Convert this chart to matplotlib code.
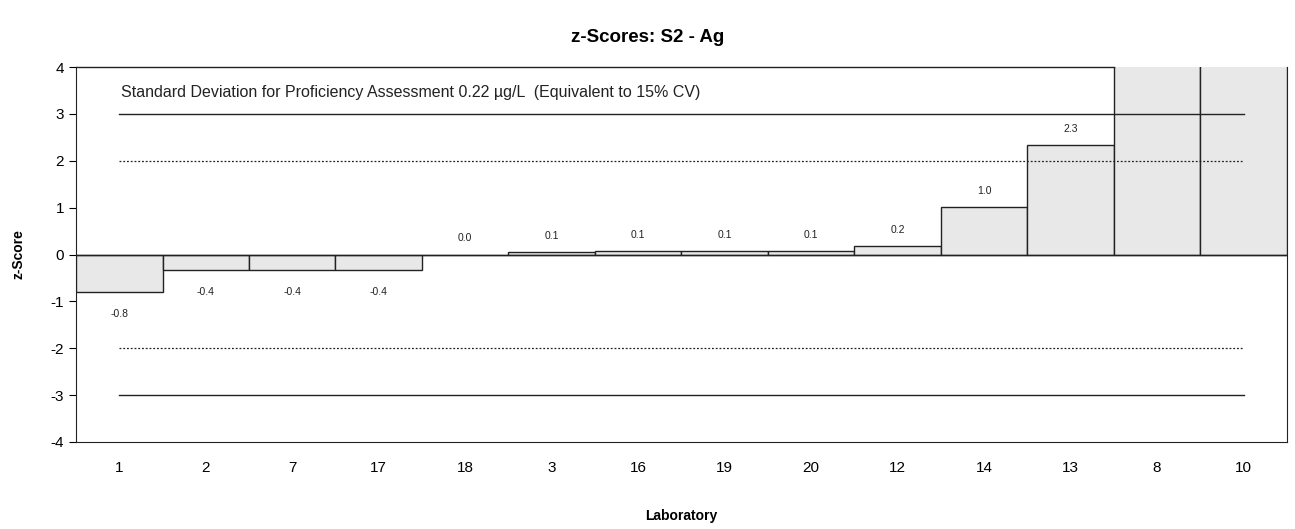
import matplotlib.pyplot as plt
import numpy as np

plt.rcParams['font.family'] = ['Liberation Sans', 'DejaVu Sans']

# Laboratory codes in plotted order and their z-scores
labs = ['1', '2', '7', '17', '18', '3', '16', '19', '20', '12', '14', '13', '8', '10']
z_scores = [-0.81, -0.34, -0.34, -0.34, 0.0, 0.05, 0.07, 0.07, 0.07, 0.18, 1.02, 2.34, 7.6, 9.8]
value_labels = ['-0.8', '-0.4', '-0.4', '-0.4', '0.0', '0.1', '0.1', '0.1', '0.1', '0.2', '1.0', '2.3', '', '']

y_ticks = [-4, -3, -2, -1, 0, 1, 2, 3, 4]

fig = plt.figure(figsize=(12.95, 5.29), dpi=100)
ax = fig.add_axes([0.0587, 0.1645, 0.935, 0.7088])

x = np.arange(len(labs))
ax.bar(x, z_scores, width=1.0, color='#e8e8e8', edgecolor='#222222', linewidth=1.0, zorder=3)

# value labels above positive bars, below negative bars
for xi, v, lab in zip(x, z_scores, value_labels):
    if not lab:
        continue
    if v >= 0:
        ax.annotate(lab, (xi, v), xytext=(0, 8), textcoords='offset points',
                    ha='center', va='bottom', fontsize=7.5, color='#222222')
    else:
        ax.annotate(lab, (xi, v), xytext=(0, -12), textcoords='offset points',
                    ha='center', va='top', fontsize=7.5, color='#222222')

# limit lines: +/-3 solid, +/-2 dotted
ax.plot([x[0], x[-1]], [3, 3], color='#222222', lw=1.0, zorder=4)
ax.plot([x[0], x[-1]], [-3, -3], color='#222222', lw=1.0, zorder=4)
ax.plot([x[0], x[-1]], [2, 2], color='#222222', lw=0.9, ls=(0, (1.5, 1.5)), zorder=4)
ax.plot([x[0], x[-1]], [-2, -2], color='#222222', lw=0.9, ls=(0, (1.5, 1.5)), zorder=4)
ax.axhline(0, color='#222222', lw=1.0, zorder=4)

# top frame only where no bar runs off the scale
ax.plot([-0.5, 11.5], [4, 4], color='#222222', lw=1.0, clip_on=False, zorder=5)

ax.text(0.02, 3.45, 'Standard Deviation for Proficiency Assessment 0.22 \u00b5g/L  (Equivalent to 15% CV)',
        ha='left', va='center', fontsize=11.5, color='#222222')

ax.set_xlim(-0.5, len(labs) - 0.5)
ax.set_ylim(-4, 4)
ax.set_yticks(y_ticks)
ax.set_yticklabels([str(t) for t in y_ticks], fontsize=11)
ax.set_xticks(x)
ax.set_xticklabels(labs, fontsize=11)
ax.tick_params(axis='x', length=0, pad=14)
ax.tick_params(axis='y', length=5, direction='out')
ax.spines['top'].set_visible(False)
for s in ax.spines.values():
    s.set_color('#222222')

ax.set_ylabel('z-Score', fontsize=10, fontweight='bold', labelpad=18)
ax.set_xlabel('Laboratory', fontsize=10, fontweight='bold', labelpad=24)
fig.suptitle('z-Scores: S2 - Ag', fontsize=13.5, fontweight='bold', y=0.945)

fig.savefig('out.png', dpi=100)
